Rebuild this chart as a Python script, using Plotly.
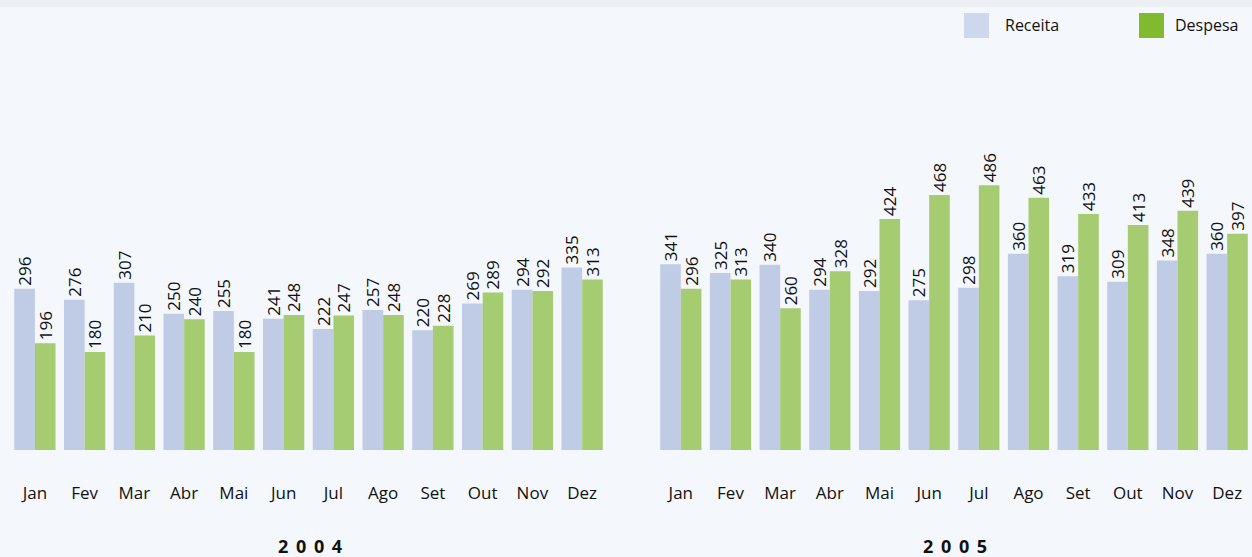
import plotly.graph_objects as go

months = ["Jan", "Fev", "Mar", "Abr", "Mai", "Jun", "Jul", "Ago", "Set", "Out", "Nov", "Dez"]
receita_2004 = [296, 276, 307, 250, 255, 241, 222, 257, 220, 269, 294, 335]
despesa_2004 = [196, 180, 210, 240, 180, 248, 247, 248, 228, 289, 292, 313]
receita_2005 = [341, 325, 340, 294, 292, 275, 298, 360, 319, 309, 348, 360]
despesa_2005 = [296, 313, 260, 328, 424, 468, 486, 463, 433, 413, 439, 397]
years = ["2004", "2005"]

W, H = 1252, 557
BG = "#f4f7fc"
C_REC = "#c0cbe6"
C_DES = "#a6cc72"
FONT = "Open Sans"

fig = go.Figure()

def add_bars(rec, des, xa):
    for name, vals, col in (("Receita", rec, C_REC), ("Despesa", des, C_DES)):
        fig.add_trace(go.Bar(
            x=months, y=vals, name=name, marker=dict(color=col, line=dict(width=0)),
            text=[str(v) for v in vals], textposition="outside", textangle=-90,
            textfont=dict(family=FONT, size=17, color="#111111"),
            constraintext="none", cliponaxis=False, showlegend=False,
            xaxis=xa, yaxis="y", hoverinfo="skip"))

add_bars(receita_2004, despesa_2004, "x")
add_bars(receita_2005, despesa_2005, "x2")

axis_common = dict(showgrid=False, zeroline=False, showline=False, ticks="",
                   tickfont=dict(family=FONT, size=17, color="#111111"),
                   ticklabelstandoff=31, fixedrange=True)

d1 = [10 / W, 607 / W]
d2 = [656 / W, 1.0]

fig.update_layout(
    width=W, height=H,
    margin=dict(l=0, r=0, t=0, b=107),
    paper_bgcolor=BG, plot_bgcolor=BG,
    barmode="group", bargap=0.17, bargroupgap=0,
    xaxis=dict(domain=d1, anchor="y", **axis_common),
    xaxis2=dict(domain=d2, anchor="y", **axis_common),
    yaxis=dict(range=[0, 826], visible=False, fixedrange=True),
    showlegend=False,
)

# subtle top band
fig.add_shape(type="rect", xref="paper", yref="paper", x0=0, x1=1,
              y0=1 - 7 / 450, y1=1 + 110 / 450, fillcolor="#eceff4", line_width=0, layer="below")

# year labels (letter-spaced)
for label, dom in zip(years, (d1, d2)):
    spaced = " \u2009".join(label)
    fig.add_annotation(text="<b>" + spaced + "</b>", x=(dom[0] + dom[1]) / 2 + 1 / W,
                       xref="paper", xanchor="center",
                       y=-(546 - 450) / 450, yref="paper", yanchor="middle",
                       showarrow=False, font=dict(family=FONT, size=18, color="#111111"))

# legend
for name, col, x0, tx in (("Receita", "#cdd8ee", 964, 1003), ("Despesa", "#80bb2f", 1139, 1173)):
    fig.add_shape(type="rect", xref="paper", yref="paper",
                  x0=x0 / W, x1=(x0 + 25) / W,
                  y0=1 - 38 / 450, y1=1 - 13 / 450,
                  fillcolor=col, line_width=0)
    fig.add_annotation(text=name, x=tx / W, xref="paper", xanchor="left",
                       y=1 - 25 / 450, yref="paper", yanchor="middle",
                       showarrow=False, font=dict(family=FONT, size=16, color="#111111"))

fig.write_html("out.html", config={"displayModeBar": False},
               post_script="document.body.style.margin='0';document.body.style.background='%s';"
                           "document.body.style.overflow='hidden';" % BG)
